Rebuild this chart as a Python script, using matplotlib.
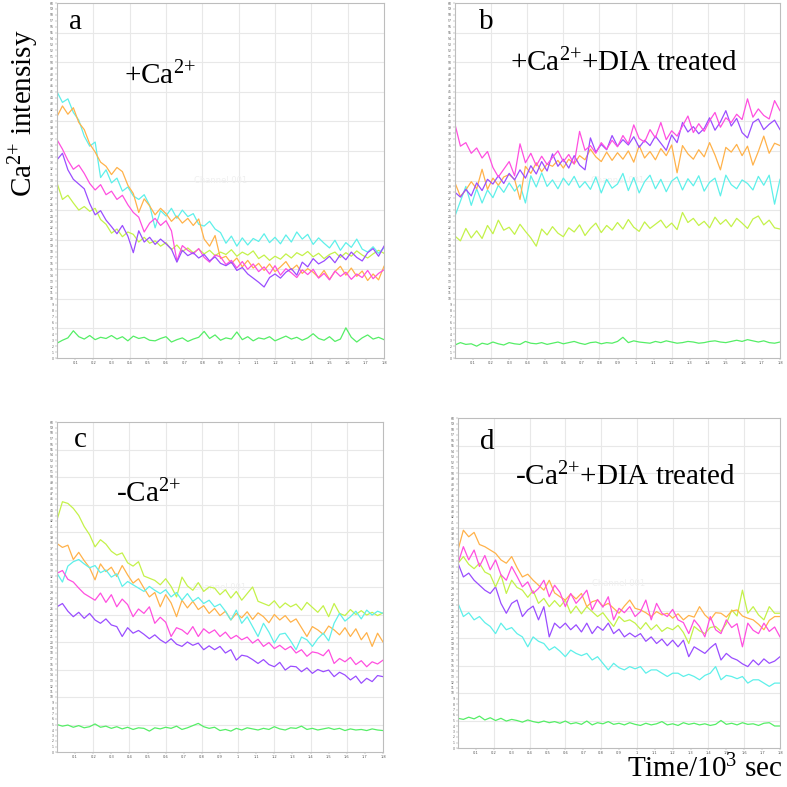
import numpy as np
import matplotlib
matplotlib.use("Agg")
import matplotlib.pyplot as plt

plt.rcParams['font.family'] = ['Liberation Serif', 'DejaVu Serif']
plt.rcParams['mathtext.fontset'] = 'custom'
plt.rcParams['mathtext.rm'] = 'Liberation Serif'
plt.rcParams['mathtext.it'] = 'Liberation Serif:italic'

# ---------------- data (Ca2+ intensity, sampled every 0.03 x10^3 s) ----------------
cyan_a = [45.0, 43.2, 43.8, 41.5, 40.2, 37.5, 35.8, 36.5, 30.5, 31.8, 29.6, 30.4, 28.2, 28.9, 27.4, 26.8, 27.6, 25.8, 22.0, 24.9, 24.0, 25.3, 23.6, 25.0, 23.9, 24.4, 22.6, 22.3, 23.1, 21.8, 21.2, 19.4, 20.6, 18.9, 20.3, 19.1, 20.2, 19.7, 21.0, 19.5, 20.4, 19.3, 20.8, 19.6, 21.3, 20.1, 20.9, 19.2, 20.3, 19.4, 18.6, 19.9, 18.2, 19.5, 18.7, 20.1, 18.4, 17.9, 18.8, 17.7, 18.6]
orange_a = [40.8, 42.6, 41.2, 42.3, 39.8, 38.6, 36.2, 34.8, 33.1, 32.4, 31.0, 32.2, 31.5, 29.2, 27.8, 24.6, 26.9, 25.7, 24.2, 25.3, 24.4, 23.1, 24.0, 22.8, 23.6, 22.4, 23.5, 20.1, 18.9, 20.7, 16.8, 17.2, 16.0, 16.9, 15.4, 16.5, 15.2, 16.0, 14.8, 15.9, 14.6, 15.4, 16.3, 14.9, 15.7, 14.3, 15.1, 14.5, 13.6, 14.8, 13.3, 14.6, 15.5, 14.0, 15.2, 13.8, 14.7, 13.1, 14.2, 13.2, 15.5]
magenta_a = [36.9, 35.3, 33.4, 31.9, 32.6, 31.2, 29.5, 28.4, 29.3, 27.6, 28.2, 26.8, 27.5, 25.9, 24.6, 23.8, 21.3, 22.8, 23.6, 22.4, 23.2, 21.5, 16.4, 19.0, 18.2, 17.6, 18.5, 17.0, 16.2, 17.4, 17.1, 15.8, 16.5, 15.2, 16.3, 15.0, 15.9, 14.6, 15.4, 14.2, 15.6, 14.0, 15.1, 14.4, 13.6, 14.9, 14.1, 15.0, 13.5, 14.3, 13.2, 14.7, 13.8, 14.5, 13.3, 14.2, 13.6, 14.8, 13.4, 14.3, 14.9]
purple_a = [33.5, 34.6, 31.8, 30.2, 29.4, 28.6, 26.1, 24.2, 24.9, 23.3, 22.2, 21.0, 22.4, 20.6, 17.8, 21.5, 19.6, 20.4, 19.2, 20.1, 19.3, 18.4, 16.2, 18.2, 17.3, 17.8, 16.9, 17.5, 16.4, 17.1, 16.0, 15.6, 16.2, 14.8, 15.3, 14.2, 13.5, 12.8, 12.0, 13.6, 14.2, 13.5, 14.5, 15.1, 14.0, 16.2, 15.4, 16.8, 15.9, 16.4, 17.2, 16.1, 17.5, 16.6, 17.9, 17.0, 16.4, 17.8, 18.5, 17.2, 18.9]
ygreen_a = [29.6, 26.8, 27.5, 26.2, 25.0, 25.6, 24.8, 25.3, 23.4, 22.6, 21.1, 21.8, 20.5, 21.3, 20.9, 19.6, 20.4, 19.4, 19.8, 18.9, 19.5, 18.3, 19.1, 18.0, 18.6, 17.8, 18.4, 17.6, 18.2, 17.3, 17.9, 17.5, 18.3, 17.2, 17.9, 17.4, 18.1, 16.8, 17.4, 16.5, 17.2, 16.7, 17.6, 16.9, 17.8, 17.3, 18.0, 17.1, 17.7, 16.8, 17.5, 17.9, 17.0, 17.8, 17.2, 18.1, 17.4, 16.9, 17.6, 18.2, 17.7]
green_a = [2.5, 3.0, 3.4, 4.6, 3.6, 3.2, 3.8, 3.1, 3.5, 3.3, 3.8, 3.2, 3.6, 2.9, 3.7, 3.3, 3.5, 3.0, 2.9, 3.3, 3.6, 2.7, 3.1, 3.4, 2.8, 3.2, 3.5, 4.5, 3.3, 3.9, 3.0, 3.4, 3.2, 4.4, 3.1, 3.6, 2.9, 3.4, 3.2, 3.6, 2.9, 3.3, 3.7, 3.2, 3.5, 3.0, 3.4, 4.1, 3.3, 3.0, 3.6, 2.8, 3.2, 5.1, 3.5, 2.7, 3.4, 3.9, 3.2, 3.5, 3.1]

magenta_b = [39.5, 35.8, 36.4, 34.6, 35.5, 33.8, 34.9, 32.2, 30.6, 31.9, 33.2, 30.8, 36.2, 33.0, 34.6, 32.5, 34.1, 32.7, 33.9, 35.0, 33.2, 34.4, 32.8, 38.3, 35.1, 35.9, 34.6, 36.4, 35.3, 36.8, 35.7, 37.6, 36.2, 39.4, 37.1, 36.5, 38.6, 37.2, 39.8, 36.9, 38.4, 37.5, 39.2, 40.9, 38.1, 39.6, 38.3, 40.1, 41.5, 39.0, 40.6, 39.8, 41.2, 40.3, 43.8, 40.7, 42.1, 41.0, 40.4, 43.5, 41.8]
purple_b = [28.0, 27.2, 28.5, 27.4, 29.6, 28.3, 30.2, 29.4, 30.8, 29.5, 31.2, 30.1, 31.8, 30.4, 32.5, 31.1, 33.2, 31.6, 34.5, 32.4, 33.6, 32.1, 34.2, 32.6, 31.8, 37.2, 34.8, 36.1, 35.2, 37.6, 35.8, 36.9, 36.0, 37.4, 35.6, 36.8, 35.9, 37.5, 36.3, 35.1, 37.7, 36.4, 39.8, 38.2, 39.1, 37.9, 38.8, 40.6, 38.5, 39.9, 41.8, 39.2, 40.5, 38.1, 37.2, 39.8, 40.4, 38.6, 39.5, 40.2, 38.6]
orange_b = [29.6, 27.3, 28.4, 29.8, 28.6, 31.9, 28.5, 30.4, 29.2, 30.6, 31.0, 30.2, 26.8, 32.4, 31.2, 33.0, 31.5, 32.8, 32.4, 33.4, 32.1, 33.6, 32.8, 34.2, 33.5, 35.3, 34.0, 33.2, 34.8, 33.4, 34.7, 33.6, 35.0, 33.1, 35.9, 33.8, 34.9, 33.5, 35.4, 34.2, 36.0, 31.3, 35.9, 34.5, 33.6, 35.2, 34.0, 36.4, 34.3, 31.8, 35.6, 34.8, 36.1, 34.2, 35.8, 32.6, 34.9, 37.5, 34.6, 36.3, 35.9]
cyan_b = [24.0, 26.5, 29.0, 25.8, 28.6, 26.2, 28.4, 27.1, 29.2, 28.0, 29.6, 28.2, 29.3, 26.2, 30.8, 28.9, 31.3, 29.0, 30.1, 28.6, 30.4, 29.2, 30.7, 28.8, 29.8, 28.5, 30.6, 27.9, 30.2, 28.7, 29.4, 31.2, 28.3, 30.5, 27.9, 29.8, 30.9, 28.6, 30.2, 28.1, 29.9, 30.6, 28.4, 30.3, 29.1, 30.8, 28.2, 29.7, 30.4, 27.4, 30.9, 29.3, 28.6, 30.1, 29.5, 28.4, 30.7, 29.2, 30.9, 26.0, 30.2]
ygreen_b = [20.6, 19.8, 21.9, 20.3, 21.5, 20.2, 22.4, 21.0, 23.3, 21.6, 22.1, 20.9, 22.6, 21.4, 20.3, 18.9, 21.8, 20.8, 22.2, 21.1, 20.5, 22.0, 21.3, 22.5, 20.7, 21.9, 22.8, 21.2, 22.4, 21.6, 22.9, 21.8, 23.4, 22.1, 21.4, 23.0, 21.9, 22.6, 23.3, 22.0, 22.8, 21.7, 24.6, 22.9, 23.6, 22.4, 23.1, 22.0, 23.8, 22.6, 23.4, 22.2, 23.6, 22.8, 21.9, 23.5, 24.0, 22.5, 23.3, 22.0, 21.8]
green_b = [2.2, 2.6, 2.3, 2.4, 2.0, 2.5, 2.3, 2.7, 2.4, 2.2, 2.6, 2.4, 2.3, 2.8, 2.5, 2.4, 2.6, 2.3, 2.5, 2.7, 2.4, 2.6, 2.8, 2.5, 2.3, 2.6, 2.7, 2.4, 2.6, 2.5, 2.8, 3.5, 2.6, 2.9, 2.7, 2.6, 2.5, 2.8, 2.6, 2.9, 2.7, 2.5, 2.6, 2.8, 2.7, 2.5, 2.6, 2.8, 2.9, 2.7, 2.6, 2.8, 3.0, 2.8, 3.1, 2.9, 2.7, 2.9, 2.6, 2.5, 2.7]

ygreen_c = [42.2, 45.5, 45.2, 44.3, 43.0, 41.0, 39.5, 37.3, 38.6, 37.8, 36.5, 35.8, 36.2, 34.4, 33.8, 34.6, 32.0, 31.6, 31.2, 30.4, 31.5, 30.1, 28.2, 31.8, 30.2, 29.4, 30.8, 29.2, 30.0, 29.8, 28.6, 29.5, 28.0, 29.2, 27.6, 28.8, 30.0, 27.4, 27.0, 26.6, 27.5, 26.2, 27.1, 26.4, 26.9, 25.8, 27.2, 26.3, 25.4, 26.6, 24.6, 27.0, 25.2, 24.8, 25.9, 25.0, 25.7, 24.9, 25.4, 24.8, 25.3]
orange_c = [37.9, 37.2, 37.6, 35.0, 36.3, 34.8, 33.5, 31.3, 34.2, 32.8, 33.6, 31.9, 33.9, 32.2, 30.7, 31.5, 29.8, 28.2, 29.0, 26.4, 28.6, 27.1, 24.6, 27.6, 26.2, 27.4, 25.9, 26.6, 25.2, 26.1, 24.8, 25.6, 24.0, 25.2, 24.4, 25.5, 24.1, 25.3, 24.6, 23.5, 25.0, 24.0, 24.8, 23.6, 24.2, 22.6, 21.0, 22.8, 22.2, 21.4, 22.9, 22.2, 21.3, 22.6, 21.0, 22.4, 20.4, 21.7, 19.2, 21.6, 20.0]
cyan_c = [32.5, 30.9, 33.8, 34.6, 35.0, 34.2, 33.5, 33.9, 32.6, 33.1, 31.8, 32.4, 30.1, 31.0, 30.4, 29.8, 29.2, 30.1, 29.4, 28.8, 29.5, 28.2, 29.0, 27.6, 28.8, 27.4, 28.1, 27.0, 27.6, 26.4, 26.9, 25.6, 24.0, 25.8, 23.4, 24.6, 22.8, 21.0, 23.4, 21.8, 19.8, 21.4, 21.6, 20.2, 18.6, 20.9, 20.4, 19.2, 20.6, 21.6, 20.2, 23.4, 25.2, 23.8, 24.6, 25.6, 24.2, 25.8, 24.9, 25.6, 25.2]
magenta_c = [32.5, 33.0, 31.4, 30.9, 29.8, 28.8, 28.2, 27.6, 28.9, 27.2, 28.6, 26.4, 27.8, 26.8, 24.6, 26.0, 25.2, 26.4, 23.4, 24.5, 23.6, 21.0, 22.6, 22.2, 21.4, 22.8, 21.0, 22.4, 21.6, 22.2, 21.0, 21.8, 20.6, 21.2, 20.4, 20.9, 19.8, 20.5, 19.2, 19.9, 18.8, 19.4, 18.6, 19.2, 18.0, 18.6, 17.4, 18.2, 18.0, 17.5, 18.6, 16.1, 17.0, 16.4, 17.2, 15.9, 16.6, 15.5, 16.4, 16.0, 16.7]
purple_c = [26.4, 27.0, 25.6, 24.6, 25.4, 24.3, 25.2, 24.0, 23.4, 24.2, 23.1, 22.8, 21.0, 22.6, 21.6, 22.1, 21.4, 20.6, 21.3, 20.4, 19.8, 20.6, 19.6, 19.2, 20.0, 19.4, 19.8, 18.6, 19.3, 18.6, 19.2, 18.0, 18.6, 16.7, 17.6, 17.4, 16.8, 16.1, 16.8, 15.9, 15.5, 16.3, 14.9, 15.6, 15.5, 14.6, 15.3, 14.3, 15.0, 14.6, 14.9, 13.7, 14.5, 14.0, 13.1, 13.8, 12.5, 13.4, 12.8, 13.9, 13.7]
green_c = [5.0, 4.7, 4.9, 4.5, 4.8, 4.4, 4.6, 5.1, 4.5, 4.7, 4.3, 4.6, 4.2, 4.5, 4.1, 4.4, 4.3, 3.8, 4.4, 4.2, 4.5, 4.3, 4.7, 4.1, 4.4, 4.8, 5.2, 4.6, 4.3, 4.5, 3.9, 4.1, 3.8, 4.3, 4.0, 4.4, 4.2, 4.0, 4.3, 4.1, 4.6, 4.2, 4.0, 4.4, 4.3, 4.7, 4.1, 4.3, 4.0, 4.2, 4.4, 4.1, 4.3, 3.9, 4.2, 4.0, 4.1, 3.9, 4.2, 4.0, 3.9]

orange_d = [36.0, 39.6, 38.4, 39.2, 37.0, 36.6, 36.0, 35.4, 34.2, 33.6, 34.8, 32.8, 31.1, 31.6, 30.5, 29.6, 28.7, 30.5, 28.2, 27.5, 26.9, 28.0, 27.1, 28.1, 25.7, 26.6, 26.9, 25.8, 26.3, 25.4, 24.5, 25.8, 26.9, 25.4, 25.1, 24.6, 23.9, 24.8, 24.2, 24.5, 23.6, 24.4, 23.3, 24.1, 23.8, 25.7, 24.2, 23.3, 24.6, 24.5, 23.8, 24.9, 25.1, 24.0, 23.6, 23.3, 22.5, 21.5, 23.2, 23.9, 23.9]
magenta_d = [33.6, 36.6, 34.2, 36.0, 33.0, 35.0, 32.4, 34.2, 31.5, 30.5, 33.0, 31.2, 29.3, 30.2, 28.1, 29.0, 30.5, 27.5, 29.6, 28.3, 25.7, 28.1, 26.3, 27.4, 28.7, 25.1, 27.0, 25.6, 27.5, 23.3, 25.4, 24.6, 25.7, 23.9, 24.8, 26.9, 23.3, 26.3, 24.5, 23.9, 25.2, 23.3, 22.8, 20.8, 23.3, 22.1, 20.2, 23.9, 21.5, 20.8, 23.3, 21.9, 22.6, 18.4, 22.7, 21.4, 20.8, 22.7, 21.2, 22.0, 20.2]
ygreen_d = [33.6, 34.8, 33.4, 32.6, 33.6, 32.0, 31.5, 29.3, 31.5, 28.1, 30.5, 29.2, 28.7, 27.4, 28.6, 26.3, 27.2, 25.7, 26.8, 25.7, 26.9, 24.5, 25.8, 24.4, 25.7, 24.8, 23.9, 24.6, 23.3, 22.1, 23.9, 23.0, 23.3, 22.7, 21.6, 22.8, 21.5, 22.4, 21.2, 21.9, 21.5, 22.3, 21.0, 19.0, 22.1, 21.3, 20.8, 21.9, 22.1, 21.2, 22.6, 25.1, 24.0, 28.7, 24.5, 25.7, 24.2, 23.3, 25.7, 24.5, 24.5]
purple_d = [33.6, 31.1, 31.8, 30.5, 29.6, 28.7, 28.1, 29.3, 26.3, 24.5, 26.3, 26.9, 23.9, 25.1, 25.8, 23.3, 25.7, 20.2, 22.7, 21.8, 22.7, 21.5, 22.4, 21.1, 22.7, 20.8, 22.1, 21.4, 22.7, 20.8, 21.6, 20.2, 20.9, 20.2, 20.8, 19.4, 20.2, 19.0, 19.8, 18.6, 19.6, 18.4, 19.6, 16.6, 18.4, 17.8, 17.2, 18.2, 19.0, 16.0, 17.2, 16.4, 16.0, 15.3, 14.8, 16.0, 15.1, 16.2, 15.4, 15.8, 16.6]
cyan_d = [26.3, 23.9, 24.6, 23.3, 23.9, 22.8, 22.1, 20.8, 22.7, 21.5, 21.9, 20.8, 20.2, 18.4, 20.2, 19.4, 19.0, 17.8, 18.4, 17.6, 16.6, 17.8, 17.2, 16.8, 17.2, 16.0, 16.6, 15.4, 14.2, 15.4, 14.6, 14.2, 14.8, 14.4, 14.8, 13.6, 14.2, 14.2, 13.6, 13.0, 13.6, 13.6, 13.0, 13.4, 13.0, 12.4, 13.2, 13.6, 14.8, 12.4, 13.2, 13.0, 12.6, 13.0, 11.8, 12.4, 12.4, 11.8, 11.2, 11.8, 11.8]
green_d = [5.4, 5.2, 5.6, 5.3, 5.8, 5.1, 5.5, 5.0, 5.4, 4.9, 5.2, 5.0, 4.7, 5.1, 4.8, 4.6, 4.9, 4.6, 4.8, 4.5, 4.9, 4.4, 4.6, 4.3, 4.9, 4.2, 4.6, 4.4, 4.8, 4.3, 4.5, 4.2, 4.6, 4.3, 4.1, 4.5, 4.2, 4.4, 4.8, 4.2, 4.4, 4.1, 4.6, 4.3, 4.5, 4.2, 4.4, 4.1, 4.3, 5.0, 4.3, 4.5, 4.2, 4.6, 4.3, 4.4, 4.1, 4.5, 4.6, 4.0, 4.0]

x_ticks = [0.1, 0.2, 0.3, 0.4, 0.5, 0.6, 0.7, 0.8, 0.9, 1.0, 1.1, 1.2, 1.3, 1.4, 1.5, 1.6, 1.7, 1.8]
x_ticklabels = ["0.1", "0.2", "0.3", "0.4", "0.5", "0.6", "0.7", "0.8", "0.9", "1", "1.1", "1.2",
                "1.3", "1.4", "1.5", "1.6", "1.7", "1.8"]

SUP = r"$\mathrm{Ca}^{2{+}}$"
panel_letters = ["a", "b", "c", "d"]
panel_titles = ["+" + SUP, "+" + SUP + "+DIA treated", "-" + SUP, "-" + SUP + "+DIA treated"]

COL = {"cyan": "#5ef0ea", "orange": "#ffb24a", "magenta": "#ff4fe0",
       "purple": "#9a4dff", "ygreen": "#c4f24a", "green": "#55ee66"}

panels = [
    {"green": green_a, "ygreen": ygreen_a, "cyan": cyan_a, "orange": orange_a, "magenta": magenta_a, "purple": purple_a},
    {"green": green_b, "ygreen": ygreen_b, "cyan": cyan_b, "orange": orange_b, "purple": purple_b, "magenta": magenta_b},
    {"green": green_c, "ygreen": ygreen_c, "orange": orange_c, "cyan": cyan_c, "magenta": magenta_c, "purple": purple_c},
    {"green": green_d, "cyan": cyan_d, "purple": purple_d, "ygreen": ygreen_d, "orange": orange_d, "magenta": magenta_d},
]

W = H = 787.0
def rect(l, t, r, b):
    return [l / W, 1 - b / H, (r - l) / W, (b - t) / H]

rects = [rect(57, 3, 384, 358), rect(455, 3, 780, 358),
         rect(57, 422, 383, 752), rect(458, 418, 780, 748)]

fig = plt.figure(figsize=(7.87, 7.87), dpi=100)

for k, (pr, series) in enumerate(zip(rects, panels)):
    ax = fig.add_axes(pr)
    for name, vals in series.items():
        t = np.linspace(0, 1.8, len(vals))
        ax.plot(t, vals, color=COL[name], lw=0.9)
    ax.set_xlim(0, 1.8)
    ax.set_ylim(0, 60)
    ax.set_xticks(x_ticks)
    ax.set_xticklabels(x_ticklabels, fontsize=2.6, family='DejaVu Sans', color='#555555')
    ax.set_xticks(np.arange(0, 1.801, 0.01), minor=True)
    ax.set_yticks(np.arange(0, 61, 1))
    ax.set_yticklabels([str(v) for v in range(0, 61)], fontsize=2.2, family='DejaVu Sans', color='#555555')
    ax.tick_params(axis='both', which='major', length=1.5, width=0.3, pad=1, colors='#888888',
                   labelcolor='#555555')
    ax.tick_params(axis='both', which='minor', length=0.8, width=0.3, colors='#999999')
    for xv in np.arange(0.2, 1.8, 0.2):
        ax.axvline(xv, color='#e8e8e8', lw=0.8, zorder=0)
    for yv in range(5, 60, 5):
        ax.axhline(yv, color='#e8e8e8', lw=0.8, zorder=0)
    for s in ax.spines.values():
        s.set_color('#bdbdbd')
        s.set_linewidth(0.8)
    ax.text(0.9, 30, "Channel 001", fontsize=6, color='#f0f0f0', family='DejaVu Sans',
            ha='center', va='center', zorder=0.5)

# panel letters and titles
letter_pos = [(75, 22), (486, 22), (80, 440), (487, 442)]
title_pos = [(160, 76), (624, 63), (148, 494), (625, 477)]
for (lx, ly), (tx, ty), L, T in zip(letter_pos, title_pos, panel_letters, panel_titles):
    fig.text(lx / W, 1 - ly / H, L, fontsize=21, ha='center', va='center')
    fig.text(tx / W, 1 - ty / H, T, fontsize=21, ha='center', va='center')

fig.text(24 / W, 1 - 113 / H, SUP + " intensisy", fontsize=21, rotation=90,
         ha='center', va='center')
fig.text(705 / W, 1 - 769 / H, r"Time/$\mathrm{10}^{3}$ sec", fontsize=21, ha='center', va='center')

fig.savefig("out.png", dpi=100)
